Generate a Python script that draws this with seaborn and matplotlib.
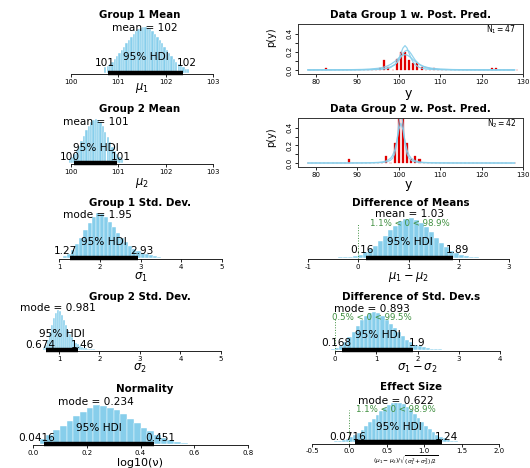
import numpy as np
import matplotlib
matplotlib.use('Agg')
import matplotlib.pyplot as plt
from matplotlib import transforms
import seaborn as sns

# ---------------- data ----------------
mu1_start, mu1_width = 100.70, 0.05
mu1_heights = [0.12, 0.15, 0.19, 0.24, 0.30, 0.36, 0.42, 0.49, 0.57, 0.64, 0.72, 0.79,
               0.85, 0.91, 0.95, 0.98, 1.00, 1.00, 0.98, 0.95, 0.91, 0.85, 0.79, 0.72,
               0.64, 0.57, 0.49, 0.42, 0.36, 0.30, 0.24, 0.19, 0.15, 0.12, 0.09, 0.07]
mu2_start, mu2_width = 99.95, 0.05
mu2_heights = [0.09, 0.14, 0.20, 0.29, 0.39, 0.50, 0.62, 0.74, 0.85, 0.93, 0.98, 1.00,
               0.98, 0.92, 0.83, 0.71, 0.59, 0.47, 0.36, 0.27, 0.19, 0.13, 0.085]
sigma1_start, sigma1_width = 1.10, 0.10
sigma1_heights = [0.03, 0.08, 0.17, 0.30, 0.45, 0.62, 0.78, 0.92, 1.00, 0.98, 0.90, 0.80,
                  0.68, 0.56, 0.45, 0.35, 0.27, 0.20, 0.15, 0.11, 0.08, 0.05, 0.035, 0.02]
sigma2_start, sigma2_width = 0.60, 0.05
sigma2_heights = [0.05, 0.12, 0.25, 0.42, 0.62, 0.80, 0.93, 1.00, 0.97, 0.88, 0.76, 0.63,
                  0.51, 0.40, 0.31, 0.24, 0.18, 0.14, 0.10, 0.075, 0.055, 0.04, 0.03, 0.02,
                  0.015, 0.01]
nu_start, nu_width = 0.025, 0.025
nu_heights = [0.12, 0.22, 0.35, 0.47, 0.60, 0.72, 0.83, 0.92, 1.00, 0.98, 0.93, 0.86,
              0.76, 0.65, 0.53, 0.42, 0.32, 0.23, 0.15, 0.09, 0.05, 0.03]
dmu_start, dmu_width = -0.40, 0.10
dmu_heights = [0.01, 0.015, 0.03, 0.05, 0.08, 0.135, 0.21, 0.30, 0.42, 0.55, 0.69, 0.81,
               0.92, 0.98, 1.00, 0.96, 0.88, 0.77, 0.64, 0.50, 0.37, 0.26, 0.18, 0.11,
               0.07, 0.04, 0.02, 0.01]
dsig_start, dsig_width = -0.10, 0.10
dsig_heights = [0.01, 0.04, 0.10, 0.20, 0.33, 0.48, 0.63, 0.78, 0.90, 0.98, 1.00, 0.97,
                0.90, 0.80, 0.69, 0.57, 0.46, 0.36, 0.27, 0.20, 0.14, 0.10, 0.07, 0.045,
                0.03, 0.02, 0.01]
eff_start, eff_width = -0.20, 0.05
eff_heights = [0.03, 0.04, 0.06, 0.09, 0.13, 0.18, 0.24, 0.32, 0.40, 0.50, 0.59, 0.69,
               0.79, 0.87, 0.94, 0.98, 1.00, 0.99, 0.95, 0.89, 0.81, 0.71, 0.62, 0.52,
               0.42, 0.33, 0.26, 0.19, 0.14, 0.10, 0.07, 0.045, 0.03, 0.02, 0.012]

# summary statistics: (value used for placement, displayed label)
mu1_mean, mu1_mean_lab = 101.55, "102"
mu1_hdi, mu1_hdi_lab = [100.79, 102.37], ["101", "102"]
mu2_mean, mu2_mean_lab = 100.52, "101"
mu2_hdi, mu2_hdi_lab = [100.06, 100.97], ["100", "101"]
sigma1_mode, sigma1_mode_lab = 1.95, "1.95"
sigma1_hdi, sigma1_hdi_lab = [1.27, 2.93], ["1.27", "2.93"]
sigma2_mode, sigma2_mode_lab = 0.981, "0.981"
sigma2_hdi, sigma2_hdi_lab = [0.674, 1.46], ["0.674", "1.46"]
nu_mode, nu_mode_lab = 0.234, "0.234"
nu_hdi, nu_hdi_lab = [0.0416, 0.451], ["0.0416", "0.451"]
dmu_mean, dmu_mean_lab = 1.03, "1.03"
dmu_hdi, dmu_hdi_lab = [0.16, 1.89], ["0.16", "1.89"]
dmu_cmp = "1.1% < 0 < 98.9%"
dsig_mode, dsig_mode_lab = 0.893, "0.893"
dsig_hdi, dsig_hdi_lab = [0.168, 1.90], ["0.168", "1.9"]
dsig_cmp = "0.5% < 0 < 99.5%"
eff_mode, eff_mode_lab = 0.622, "0.622"
eff_hdi, eff_hdi_lab = [0.0716, 1.24], ["0.0716", "1.24"]
eff_cmp = "1.1% < 0 < 98.9%"

# data histograms (posterior predictive panels)
y1_bins_start = 78
y1_centers = [82.5, 95.5, 96.5, 97.5, 99.5, 100.5, 101.5, 102.5, 103.5, 104.5, 105.5,
              108.5, 122.5, 123.5]
y1_density = [0.02, 0.025, 0.11, 0.03, 0.12, 0.20, 0.20, 0.11, 0.075, 0.075, 0.03,
              0.02, 0.02, 0.02]
y2_bins_start = 77.5
y2_centers = [88, 97, 99, 100, 101, 102, 103, 104, 105]
y2_density = [0.05, 0.08, 0.23, 0.60, 0.60, 0.23, 0.04, 0.08, 0.05]
N1_lab, N2_lab = "47", "42"

# posterior predictive curves
pp1_x = [78, 80, 85, 88, 91, 93, 95, 96, 97, 98, 99, 99.5, 100, 100.5, 101, 101.5,
         102, 102.5, 103, 103.5, 104, 105, 106, 107, 108, 110, 113, 116, 120, 125, 128]
pp1_a = [0.0001, 0.0002, 0.0004, 0.0006, 0.0014, 0.0025, 0.0055, 0.0086, 0.0146, 0.027,
         0.056, 0.084, 0.126, 0.183, 0.243, 0.27, 0.243, 0.183, 0.126, 0.084, 0.056,
         0.027, 0.0146, 0.0086, 0.0055, 0.0025, 0.0011, 0.0005, 0.0003, 0.0001, 0.0001]
pp1_b = [0.0002, 0.0003, 0.0007, 0.0013, 0.0025, 0.0045, 0.0088, 0.0131, 0.0205, 0.034,
         0.060, 0.080, 0.107, 0.141, 0.177, 0.208, 0.22, 0.208, 0.177, 0.141, 0.107,
         0.060, 0.034, 0.0205, 0.0131, 0.0061, 0.0025, 0.0013, 0.0006, 0.0003, 0.0002]
pp1_c = [0.0005, 0.0008, 0.0016, 0.0028, 0.0055, 0.0096, 0.0185, 0.027, 0.040, 0.061,
         0.0925, 0.112, 0.133, 0.151, 0.165, 0.17, 0.165, 0.151, 0.133, 0.112, 0.0925,
         0.061, 0.040, 0.027, 0.0185, 0.0096, 0.0045, 0.0024, 0.0012, 0.0006, 0.0004]
pp2_x = [78, 80, 85, 88, 91, 93, 95, 96, 97, 98, 98.5, 99, 99.5, 100, 100.5, 101, 101.5,
         102, 102.5, 103, 104, 105, 106, 108, 110, 113, 116, 120, 125, 128]
pp2_a = [0.0001, 0.0001, 0.0002, 0.0004, 0.0009, 0.0016, 0.0034, 0.0061, 0.0125, 0.031,
         0.054, 0.103, 0.216, 0.441, 0.62, 0.441, 0.216, 0.103, 0.054, 0.031, 0.0125,
         0.0061, 0.0034, 0.0016, 0.0009, 0.0004, 0.0002, 0.0001, 0.0001, 0.0001]
pp2_b = [0.0001, 0.0002, 0.0004, 0.0007, 0.0015, 0.0029, 0.007, 0.0122, 0.0237, 0.0537,
         0.0866, 0.145, 0.245, 0.377, 0.45, 0.377, 0.245, 0.145, 0.0866, 0.0537, 0.0237,
         0.0122, 0.007, 0.0029, 0.0015, 0.0007, 0.0004, 0.0002, 0.0001, 0.0001]

# ---------------- figure ----------------
W, H = 530, 468
sns.set_theme(style='white')
plt.rcParams['font.family'] = ['DejaVu Sans']
plt.rcParams['mathtext.fontset'] = 'dejavusans'
plt.rcParams['text.color'] = 'black'

BLUE = '#87CEEB'
GREEN = '#3f8f3f'
RED = '#e00000'
FS_TXT = 7.6
FS_TICK = 5
FS_TITLE = 7.4
FS_XLAB = 8.3

fig = plt.figure(figsize=(W / 100, H / 100), dpi=100)
fig.patch.set_facecolor('white')


def fx(px):
    return px / W


def fy(py):
    return 1 - py / H


def label_width_pts(s, fs):
    w = 0
    for c in s:
        w += 0.636 if c.isdigit() else 0.318
    return w * fs


def post_panel(start, width, heights, ticks, tick_px, y_axis, y_peak, title, y_title,
               xlabel, y_xlab, stat_name, stat_val, stat_lab, y_stat, hdi, hdi_lab,
               y_hdi_txt, y_hdi_lab, cmp_txt=None, y_cmp=None, ticklabels=None,
               title_x=None, xlab_fs=FS_XLAB, xlab_va='center', tick_pad=1.2):
    v0, v1 = ticks[0], ticks[-1]
    p0, p1 = tick_px
    scale = (p1 - p0) / (v1 - v0)
    L, R = max(p0 - 45, 1), p1 + 12
    ax = fig.add_axes([fx(L), fy(y_axis), (R - L) / W, (y_axis - y_peak) / H])
    ax.patch.set_alpha(0)
    n = len(heights)
    centers = [start + width * (i + 0.5) for i in range(n)]
    sns.histplot(x=centers, weights=heights, binwidth=width,
                 binrange=(start, start + width * n), ax=ax, color=BLUE,
                 edgecolor='white', linewidth=0.3, alpha=1)
    top = max(heights)
    ax.set_ylim(-0.03 * top, top)
    ax.set_xlim(v0 + (L - p0) / scale, v0 + (R - p0) / scale)
    for s in ['top', 'left', 'right']:
        ax.spines[s].set_visible(False)
    ax.spines['bottom'].set_bounds(v0, v1)
    ax.spines['bottom'].set_linewidth(0.6)
    ax.spines['bottom'].set_color('black')
    ax.set_yticks([])
    ax.set_xticks(ticks)
    ax.set_xticklabels(ticklabels if ticklabels else [str(t) for t in ticks])
    ax.tick_params(axis='x', length=2.5, width=0.6, pad=tick_pad, labelsize=FS_TICK,
                   bottom=True, colors='black')
    ax.set_xlabel('')
    ax.set_ylabel('')
    tr = transforms.blended_transform_factory(ax.transData, fig.transFigure)
    # HDI bar
    ax.plot(hdi, [0, 0], color='black', lw=3.2, solid_capstyle='butt', clip_on=False)
    # texts
    ax.text(stat_val, fy(y_stat), f'{stat_name} = {stat_lab}', transform=tr,
            ha='center', va='center', fontsize=FS_TXT)
    ax.text(np.mean(hdi), fy(y_hdi_txt), '95% HDI', transform=tr,
            ha='center', va='center', fontsize=FS_TXT)
    wl = label_width_pts(hdi_lab[0], FS_TXT)
    wr = label_width_pts(hdi_lab[1], FS_TXT)
    ax.annotate(hdi_lab[0], xy=(hdi[0], fy(y_hdi_lab)), xycoords=tr,
                xytext=(-0.2 * wl, 0), textcoords='offset points',
                ha='center', va='center', fontsize=FS_TXT)
    ax.annotate(hdi_lab[1], xy=(hdi[1], fy(y_hdi_lab)), xycoords=tr,
                xytext=(0.2 * wr, 0), textcoords='offset points',
                ha='center', va='center', fontsize=FS_TXT)
    if cmp_txt:
        ax.text(stat_val, fy(y_cmp), cmp_txt, transform=tr, ha='center', va='center',
                fontsize=6.2, color=GREEN)
        ax.plot([0, 0], [fy(y_axis), fy(y_cmp)], transform=tr, color=GREEN, lw=0.7,
                ls=':', clip_on=False)
    cx = (p0 + p1) / 2
    fig.text(fx(title_x if title_x else cx), fy(y_title), title, ha='center',
             va='center', fontsize=FS_TITLE, fontweight='bold')
    fig.text(fx(cx), fy(y_xlab), xlabel, ha='center', va=xlab_va, fontsize=xlab_fs)
    return ax


def pp_panel(box, red_x, red_h, bins_start, curve_x, curves, n_lab, title, y_title,
             y_xlab, y_ylab):
    L, R, T, B = box
    ax = fig.add_axes([fx(L), fy(B), (R - L) / W, (B - T) / H])
    for c in curves:
        sns.lineplot(x=curve_x, y=c, ax=ax, color=BLUE, lw=0.9, alpha=0.9)
    sns.histplot(x=red_x, weights=red_h, binwidth=1, binrange=(bins_start, bins_start + 51),
                 ax=ax, shrink=0.5, color=RED, edgecolor=RED, linewidth=0.2, alpha=1)
    p80, p130 = 316, 523
    scale = (p130 - p80) / 50
    ax.set_xlim(80 + (L - p80) / scale, 80 + (R - p80) / scale)
    ax.set_ylim(-0.045, 0.51)
    ax.set_xticks([80, 90, 100, 110, 120, 130])
    ax.set_yticks([0, 0.1, 0.2, 0.3, 0.4])
    ax.set_yticklabels(['0.0', '', '0.2', '', '0.4'], rotation=90, va='center')
    ax.tick_params(axis='both', length=2.5, width=0.6, pad=1.2, labelsize=FS_TICK,
                   bottom=True, left=True, colors='black')
    for s in ax.spines.values():
        s.set_linewidth(0.7)
        s.set_color('#333333')
    ax.set_xlabel('')
    ax.set_ylabel('')
    ax.text(0.97, 0.88, n_lab, transform=ax.transAxes, ha='right', va='center',
            fontsize=5.5)
    cx = (L + R) / 2
    fig.text(fx(cx), fy(y_title), title, ha='center', va='center', fontsize=FS_TITLE,
             fontweight='bold')
    fig.text(fx(cx - 2), fy(y_xlab), 'y', ha='center', va='center', fontsize=9)
    fig.text(fx(271), fy(y_ylab), 'p(y)', ha='center', va='center', fontsize=7,
             rotation=90)
    return ax


TITLE_LX = 140
TITLE_RX = 411

# left column
post_panel(mu1_start, mu1_width, mu1_heights, [100, 101, 102, 103], (71, 213), 74, 27,
           'Group 1 Mean', 15, r'$\mu_1$', 88, 'mean', mu1_mean, mu1_mean_lab, 28,
           mu1_hdi, mu1_hdi_lab, 57, 63, title_x=TITLE_LX)
post_panel(mu2_start, mu2_width, mu2_heights, [100, 101, 102, 103], (71, 213), 164, 119,
           'Group 2 Mean', 109, r'$\mu_2$', 183, 'mean', mu2_mean, mu2_mean_lab, 122,
           mu2_hdi, mu2_hdi_lab, 148, 157, title_x=TITLE_LX)
post_panel(sigma1_start, sigma1_width, sigma1_heights, [1, 2, 3, 4, 5], (59, 222), 259,
           213, 'Group 1 Std. Dev.', 203, r'$\sigma_1$', 277, 'mode', sigma1_mode,
           sigma1_mode_lab, 215, sigma1_hdi, sigma1_hdi_lab, 242, 251, title_x=TITLE_LX)
post_panel(sigma2_start, sigma2_width, sigma2_heights, [1, 2, 3, 4, 5], (59, 221), 351,
           310, 'Group 2 Std. Dev.', 297, r'$\sigma_2$', 368, 'mode', sigma2_mode,
           sigma2_mode_lab, 308, sigma2_hdi, sigma2_hdi_lab, 334, 344.5, title_x=TITLE_LX)
post_panel(nu_start, nu_width, nu_heights, [0.0, 0.2, 0.4, 0.6, 0.8], (33, 248), 445,
           405, 'Normality', 389, 'log10(ν)', 462.5, 'mode', nu_mode, nu_mode_lab, 402,
           nu_hdi, nu_hdi_lab, 428, 438, title_x=TITLE_LX + 5, xlab_fs=8)

# right column
pp_panel((298, 523, 24, 74), y1_centers, y1_density, y1_bins_start, pp1_x,
         [pp1_c, pp1_b, pp1_a], r'$\mathrm{N}_1 = $' + N1_lab,
         'Data Group 1 w. Post. Pred.', 15, 93, 37)
pp_panel((298, 523, 118, 167), y2_centers, y2_density, y2_bins_start, pp2_x,
         [pp2_b, pp2_a], r'$\mathrm{N}_2 = $' + N2_lab,
         'Data Group 2 w. Post. Pred.', 109, 185, 137)
post_panel(dmu_start, dmu_width, dmu_heights, [-1, 0, 1, 2, 3], (308, 509), 259, 218,
           'Difference of Means', 203, r'$\mu_1 - \mu_2$', 277, 'mean', dmu_mean,
           dmu_mean_lab, 214, dmu_hdi, dmu_hdi_lab, 242, 250, cmp_txt=dmu_cmp,
           y_cmp=223, title_x=TITLE_RX)
post_panel(dsig_start, dsig_width, dsig_heights, [0, 1, 2, 3, 4], (335, 500), 351, 312,
           'Difference of Std. Dev.s', 297, r'$\sigma_1 - \sigma_2$', 368, 'mode',
           dsig_mode, dsig_mode_lab, 309, dsig_hdi, dsig_hdi_lab, 335, 343,
           cmp_txt=dsig_cmp, y_cmp=317.5, title_x=TITLE_RX)
post_panel(eff_start, eff_width, eff_heights, [-0.5, 0.0, 0.5, 1.0, 1.5, 2.0], (312, 499),
           443.5, 402.5, 'Effect Size', 387,
           r'$(\mu_1 - \mu_2)/\sqrt{(\sigma_1^2 + \sigma_2^2)/2}$', 467.7, 'mode', eff_mode,
           eff_mode_lab, 401, eff_hdi, eff_hdi_lab, 427.5, 436.5, cmp_txt=eff_cmp,
           y_cmp=410, title_x=TITLE_RX, xlab_fs=4.2, xlab_va='bottom', tick_pad=0.4)

fig.savefig('out.png', dpi=100, facecolor='white')
